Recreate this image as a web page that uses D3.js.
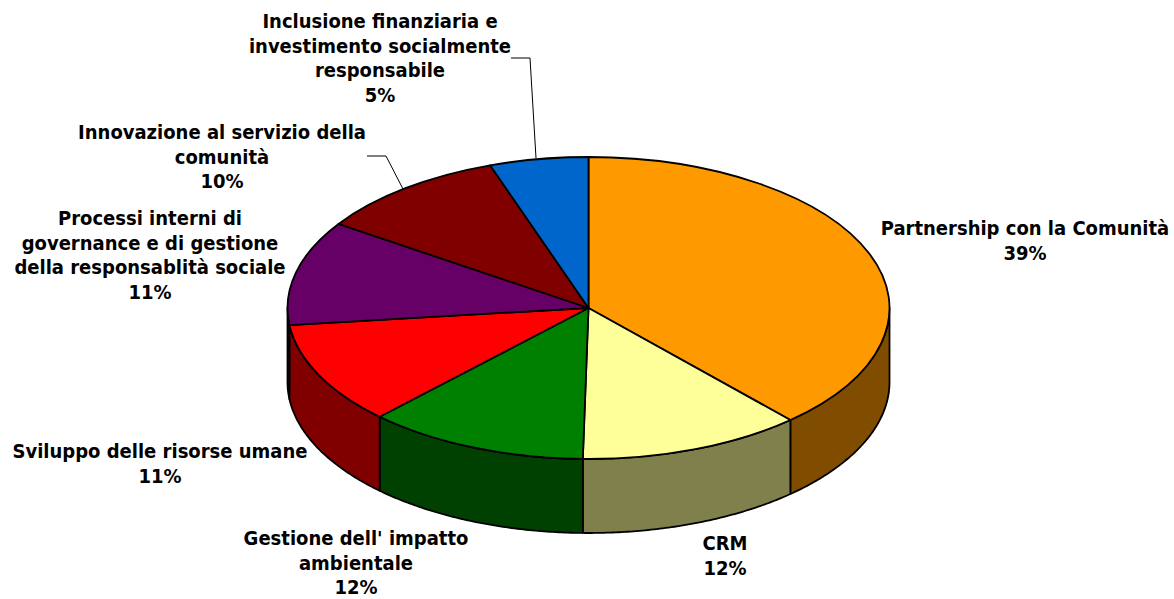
<!DOCTYPE html>
<html>
<head>
<meta charset="utf-8">
<script src="https://cdn.jsdelivr.net/npm/d3@7"></script>
<style>
  html, body { margin: 0; padding: 0; background: #fff; }
  svg { display: block; }
  text { font-family: "DejaVu Sans Condensed", "DejaVu Sans", sans-serif; font-stretch: condensed; font-weight: bold; font-size: 20px; fill: #000; }
</style>
</head>
<body>
<svg id="chart" width="1174" height="599"></svg>
<script>
// Data
const categories = [
  ["Partnership con la Comunità"],
  ["CRM"],
  ["Gestione dell' impatto", "ambientale"],
  ["Sviluppo delle risorse umane"],
  ["Processi interni di", "governance e di gestione", "della responsablità sociale"],
  ["Innovazione al servizio della", "comunità"],
  ["Inclusione finanziaria e", "investimento socialmente", "responsabile"]
];
const percentLabels = ["39%", "12%", "12%", "11%", "11%", "10%", "5%"];
const sliceValues = [38.3, 12.0, 11.9, 11.0, 11.2, 10.3, 5.3];
const topColors = ["#FF9900", "#FFFF99", "#008000", "#FF0000", "#660066", "#800000", "#0066CC"];

// Layout
const cx = 588.5, cy = 308, rx = 301, ry = 151, depth = 74;
const labelPos = [[1025, 228], [725, 543], [356, 538], [160, 451], [150, 218], [222, 132], [380, 21]];
const lineStep = 24.5;
const leaders = [
  null, null, null, null, null,
  [[367, 156], [386, 156], [403, 189]],
  [[511, 58], [530, 58], [536, 158]]
];

const svg = d3.select("#chart");

const pie = d3.pie().sort(null).value(d => d);
const arcs = pie(sliceValues);

// a = angle clockwise from the top, as d3.pie gives it
const px = a => cx + rx * Math.sin(a);
const py = a => cy - ry * Math.cos(a);
const line = d3.line();

function samples(a0, a1) {
  const n = Math.max(2, Math.ceil((a1 - a0) / 0.01));
  return d3.range(n + 1).map(i => a0 + (a1 - a0) * i / n);
}

// side wall is the top colour at half brightness
function sideColor(c) {
  const rgb = d3.rgb(c);
  return d3.rgb(rgb.r / 2, rgb.g / 2, rgb.b / 2);
}

// only the front half of the cylinder shows
arcs.forEach((d, i) => {
  const a0 = Math.max(d.startAngle, Math.PI / 2);
  const a1 = Math.min(d.endAngle, Math.PI * 1.5);
  if (a1 <= a0) return;
  const upper = samples(a0, a1).map(a => [px(a), py(a)]);
  const lower = samples(a0, a1).reverse().map(a => [px(a), py(a) + depth]);
  svg.append("path")
    .attr("d", line(upper.concat(lower)) + "Z")
    .attr("fill", sideColor(topColors[i]))
    .attr("stroke", "#000")
    .attr("stroke-width", 1.8)
    .attr("stroke-linejoin", "round");
});

// top face
const sliceArc = d3.arc().innerRadius(0).outerRadius(rx);
svg.append("g")
  .attr("transform", `translate(${cx},${cy}) scale(1,${ry / rx})`)
  .selectAll("path")
  .data(arcs)
  .enter()
  .append("path")
  .attr("d", sliceArc)
  .attr("fill", (d, i) => topColors[i])
  .attr("stroke", "#000")
  .attr("stroke-width", 1.8)
  .attr("stroke-linejoin", "round")
  .attr("vector-effect", "non-scaling-stroke");

// leader lines
leaders.forEach(pts => {
  if (!pts) return;
  svg.append("path")
    .attr("d", line(pts))
    .attr("fill", "none")
    .attr("stroke", "#000")
    .attr("stroke-width", 1);
});

// labels
categories.forEach((lines, i) => {
  const all = lines.concat(percentLabels[i]);
  const t = svg.append("text")
    .attr("text-anchor", "middle");
  all.forEach((s, j) => {
    t.append("tspan")
      .attr("x", labelPos[i][0])
      .attr("y", labelPos[i][1] + j * lineStep)
      .attr("dy", "0.36em")
      .text(s);
  });
});
</script>
</body>
</html>
